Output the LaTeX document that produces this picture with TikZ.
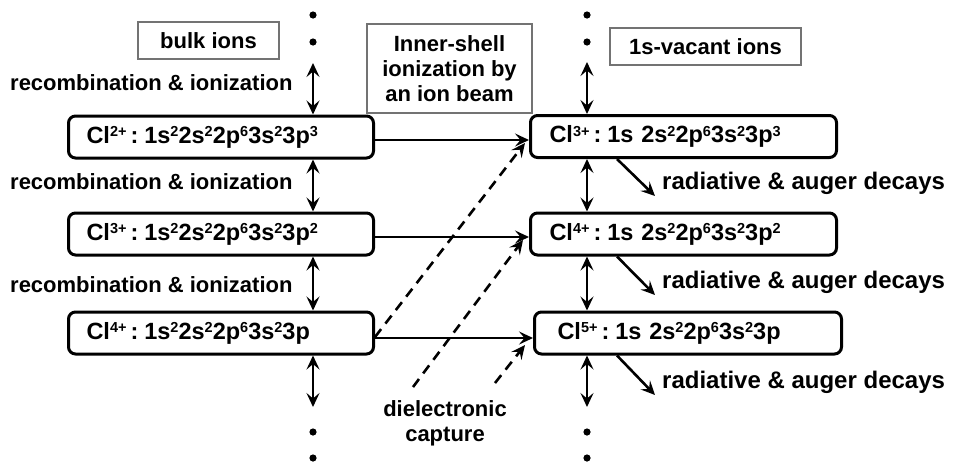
\documentclass[tikz,border=0pt]{standalone}
\usepackage{fontspec}
\setmainfont{Liberation Sans}
\usetikzlibrary{arrows.meta}
% raised small figures for electron counts and charges
\newcommand\supr[1]{\raisebox{6.5pt}{\fontsize{14.5}{14.5}\selectfont #1}}
% charge label followed by the separating colon
\newcommand\ion[1]{Cl\supr{#1}\kern4pt:\kern6pt}

\begin{document}
\begin{tikzpicture}[x=1pt,y=-1pt,
  font=\bfseries\fontsize{22}{25}\selectfont,
  level/.style={draw, line width=3pt, rounded corners=7pt, minimum height=42pt,
    anchor=west, align=left, inner ysep=0pt, font=\bfseries\fontsize{23.5}{26}\selectfont},
  tag/.style={draw=black!55, line width=1.2pt, minimum height=37pt, inner sep=0pt},
  head/.tip={Stealth[length=14pt,width=13pt,inset=5.5pt]},
  arr/.style={line width=2.6pt, -head},
  bi/.style={line width=2.6pt, head-head},
  dsh/.style={line width=2.6pt, dash pattern=on 10pt off 7pt, -head},
  dot/.style={fill=black}]
\useasboundingbox (0,0) rectangle (953,464);

% ground-state ions
\node[level, inner xsep=18pt, text width=269pt] (L1) at (67,137)
  {\ion{2+}1s\supr{2}2s\supr{2}2p\supr{6}3s\supr{2}3p\supr{3}};
\node[level, inner xsep=18pt, text width=269pt] (L2) at (67,234)
  {\ion{3+}1s\supr{2}2s\supr{2}2p\supr{6}3s\supr{2}3p\supr{2}};
\node[level, inner xsep=18pt, text width=269pt] (L3) at (67,333)
  {\ion{4+}1s\supr{2}2s\supr{2}2p\supr{6}3s\supr{2}3p};

% 1s-vacant ions
\node[level, inner xsep=19pt, text width=268pt] (R1) at (529,136.5)
  {\ion{3+}1s 2s\supr{2}2p\supr{6}3s\supr{2}3p\supr{3}};
\node[level, inner xsep=19pt, text width=268pt] (R2) at (529,234)
  {\ion{4+}1s 2s\supr{2}2p\supr{6}3s\supr{2}3p\supr{2}};
\node[level, inner xsep=23pt, text width=261pt] (R3) at (533,333)
  {\ion{5+}1s 2s\supr{2}2p\supr{6}3s\supr{2}3p};

% column headings
\node[tag, minimum width=141pt] (bulk) at (208.5,40.5) {bulk ions};
\node[tag, minimum width=165pt, minimum height=89pt, align=center] (beam) at (449.5,68.5)
  {Inner-shell\\ionization by\\an ion beam};
\node[tag, minimum width=191pt] (vac) at (705.5,46.5) {1s-vacant ions};

% process labels
\node[anchor=west, inner sep=0pt] (rec1) at (10,83) {recombination \& ionization};
\node[anchor=west, inner sep=0pt] (rec2) at (10,182) {recombination \& ionization};
\node[anchor=west, inner sep=0pt] (rec3) at (10,285) {recombination \& ionization};
\node[align=center, inner sep=0pt] (dc) at (445,423) {dielectronic\\capture};
\begin{scope}[every node/.style={anchor=west, inner sep=0pt, font=\bfseries\fontsize{24}{26}\selectfont}]
  \node (dec1) at (662,183) {radiative \& auger decays};
  \node (dec2) at (662,282) {radiative \& auger decays};
  \node (dec3) at (662,382) {radiative \& auger decays};
\end{scope}

% reference points for the charge-state ladders
\coordinate (lx) at (313,0);
\coordinate (rx) at (587,0);
\coordinate (dx) at (617,0);
\coordinate (ltop) at (313,63);
\coordinate (lbot) at (313,407);
\coordinate (rtop) at (587,62);
\coordinate (rbot) at (587,407);

% continuation dots
\foreach \xx in {313,587}
  \foreach \yy in {15,42,432,458}
    \fill[dot] (\xx,\yy) circle[radius=3.6pt];

% recombination / ionization ladders
\draw[bi] (ltop) -- (ltop |- L1.north);
\draw[bi] (L1.south -| lx) -- (L2.north -| lx);
\draw[bi] (L2.south -| lx) -- (L3.north -| lx);
\draw[bi] (L3.south -| lx) -- (lbot);
\draw[bi] (rtop) -- (rtop |- R1.north);
\draw[bi] (R1.south -| rx) -- (R2.north -| rx);
\draw[bi] (R2.south -| rx) -- (R3.north -| rx);
\draw[bi] (R3.south -| rx) -- (rbot);

% inner-shell ionization
\draw[arr] ([yshift=-3pt]L1.east) -- ([yshift=-3pt]L1.east -| R1.west);
\draw[arr] ([yshift=-3pt]L2.east) -- ([yshift=-3pt]L2.east -| R2.west);
\draw[arr] ([yshift=-5pt]L3.east) -- ([yshift=-5pt]L3.east -| R3.west);

% dielectronic capture
\coordinate (d2s) at (413,387);
\coordinate (d3s) at (495,383);
\draw[dsh] ([yshift=-4pt]L3.east) -- ([xshift=-4pt,yshift=-6.5pt]R1.west);
\draw[dsh] (d2s) -- ([xshift=-6pt,yshift=-6pt]R2.west);
\draw[dsh] (d3s) -- ([xshift=-8pt,yshift=-12pt]R3.west);

% decays
\coordinate (e1) at (655,196);
\coordinate (e2) at (655,295);
\coordinate (e3) at (655,395);
\draw[arr] (R1.south -| dx) -- (e1);
\draw[arr] (R2.south -| dx) -- (e2);
\draw[arr] (R3.south -| dx) -- (e3);
\end{tikzpicture}
\end{document}
